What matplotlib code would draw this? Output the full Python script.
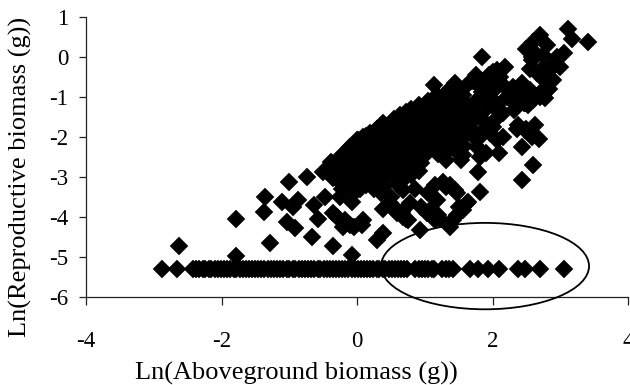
import matplotlib
matplotlib.use("Agg")
import matplotlib.pyplot as plt
from matplotlib.patches import Ellipse

plt.rcParams['font.family'] = ['Liberation Serif', 'DejaVu Serif']

# ---------------- data ----------------
x_label = "Ln(Aboveground biomass (g))"
y_label = "Ln(Reproductive biomass (g))"
x_ticks = [-4, -2, 0, 2, 4]
y_ticks = [-6, -5, -4, -3, -2, -1, 0, 1]

# plants with no reproductive biomass (plotted at a constant floor value)
zero_floor_y = -5.3
zero_x = [-2.88, -2.65, -2.42, -2.37, -2.33, -2.28, -2.24, -2.19, -2.15, -2.10,
          -2.05, -2.01, -1.96, -1.92, -1.87, -1.82, -1.78, -1.73, -1.69, -1.64,
          -1.59, -1.55, -1.50, -1.46, -1.41, -1.37, -1.32, -1.27, -1.23, -1.18,
          -1.14, -1.09, -1.04, -1.00, -0.95, -0.91, -0.86, -0.81, -0.77, -0.72,
          -0.68, -0.63, -0.58, -0.54, -0.49, -0.45, -0.40, -0.36, -0.31, -0.26,
          -0.22, -0.17, -0.13, -0.08, -0.03, 0.01, 0.06, 0.10, 0.15, 0.19,
          0.24, 0.29, 0.33, 0.38, 0.42, 0.47, 0.51, 0.56, 0.61, 0.65, 0.70,
          0.74, 0.86, 0.91, 0.96, 1.00, 1.05, 1.10, 1.14, 1.26, 1.31, 1.36,
          1.41, 1.67, 1.79, 1.94, 2.09, 2.38, 2.48, 2.70, 3.06]

# sparse points, lower-left part of the cloud
sparse_left = [(-2.62, -4.72), (-1.79, -4.03), (-1.79, -4.97), (-1.36, -3.50),
               (-1.38, -3.86), (-1.29, -4.65), (-1.00, -3.11), (-1.11, -3.61),
               (-0.87, -3.57), (-0.94, -3.73), (-1.04, -4.11), (-0.92, -4.26),
               (-0.74, -3.00), (-0.64, -3.69), (-0.67, -4.50), (-0.57, -4.05),
               (-0.47, -3.48), (-0.50, -2.86), (-0.37, -2.69), (-0.35, -3.88),
               (-0.36, -4.72), (-0.08, -4.95), (-0.25, -3.11), (-0.15, -2.90),
               (-0.10, -2.40), (-0.05, -3.40), (-0.05, -4.23), (-0.30, -3.99),
               (-0.18, -4.07), (-0.10, -4.19), (-0.20, -4.23), (0.09, -4.07),
               (0.07, -4.19), (-0.08, -3.61), (-0.25, -3.48), (-0.20, -3.15)]

# sparse points below the dense core
sparse_low = [(0.29, -4.57), (0.39, -4.40), (0.49, -3.65), (0.39, -3.78),
              (0.59, -3.90), (0.68, -3.99), (0.76, -4.07), (0.56, -2.99),
              (0.63, -3.24), (0.68, -3.32), (0.93, -4.32), (0.95, -3.74),
              (1.03, -3.90), (1.13, -3.99), (1.22, -4.03), (1.05, -3.40),
              (1.18, -3.57), (1.15, -3.19), (1.27, -3.11), (1.37, -3.19),
              (1.45, -3.32), (1.37, -4.23), (1.42, -4.07), (1.50, -3.74),
              (1.64, -3.61), (1.82, -3.36), (1.79, -2.86), (1.54, -2.57),
              (1.81, -2.48), (1.91, -2.40), (2.09, -2.40), (2.43, -2.23),
              (2.60, -2.69), (2.43, -3.07), (1.32, -3.24), (1.47, -3.40),
              (1.47, -3.95), (1.57, -3.82), (1.62, -3.65), (0.54, -3.74),
              (0.66, -3.86), (0.73, -4.03), (1.08, -3.82), (1.20, -3.95),
              (1.15, -4.07), (1.77, -2.23), (1.86, -2.40), (0.00, -3.22),
              (0.15, -3.10), (0.25, -3.28), (0.35, -3.40), (0.50, -3.50),
              (0.78, -3.65), (0.85, -3.30)]

# dense core of the cloud
core = [(-0.38, -2.62), (-0.40, -2.82), (-0.36, -3.02),
        (-0.25, -2.48), (-0.27, -2.68), (-0.24, -2.87), (-0.26, -3.05), (-0.22, -3.28),
        (-0.12, -2.26), (-0.13, -2.44), (-0.11, -2.62), (-0.12, -2.80), (-0.10, -2.98), (-0.13, -3.18),
        (0.02, -2.06), (0.01, -2.22), (0.03, -2.40), (0.02, -2.58), (0.00, -2.76), (0.03, -2.93),
        (0.02, -3.10), (0.04, -3.30),
        (0.14, -1.96), (0.15, -2.13), (0.13, -2.30), (0.15, -2.48), (0.14, -2.66), (0.12, -2.84),
        (0.15, -3.02), (0.13, -3.20),
        (0.27, -1.84), (0.28, -2.02), (0.26, -2.20), (0.28, -2.38), (0.27, -2.56), (0.25, -2.74),
        (0.28, -2.92), (0.26, -3.12),
        (0.40, -1.72), (0.41, -1.90), (0.39, -2.08), (0.42, -2.26), (0.40, -2.44), (0.38, -2.62),
        (0.41, -2.80), (0.40, -3.00), (0.42, -3.20),
        (0.53, -1.60), (0.54, -1.78), (0.52, -1.96), (0.55, -2.14), (0.53, -2.32), (0.51, -2.50),
        (0.54, -2.68), (0.52, -2.86),
        (0.66, -1.48), (0.67, -1.67), (0.65, -1.86), (0.68, -2.04), (0.66, -2.22), (0.64, -2.40),
        (0.67, -2.58), (0.65, -2.78), (0.70, -3.05),
        (0.79, -1.30), (0.80, -1.48), (0.78, -1.66), (0.81, -1.84), (0.79, -2.02), (0.77, -2.20),
        (0.80, -2.38), (0.78, -2.56), (0.81, -2.75), (0.79, -2.95),
        (0.92, -1.20), (0.93, -1.38), (0.91, -1.56), (0.94, -1.74), (0.92, -1.92), (0.90, -2.10),
        (0.93, -2.28), (0.91, -2.46), (0.94, -2.64), (0.92, -2.85),
        (1.05, -1.10), (1.06, -1.28), (1.04, -1.46), (1.07, -1.64), (1.05, -1.82), (1.03, -2.00),
        (1.06, -2.18), (1.04, -2.38),
        (1.18, -0.95), (1.19, -1.13), (1.17, -1.31), (1.20, -1.49), (1.18, -1.67), (1.16, -1.85),
        (1.19, -2.03), (1.17, -2.22), (1.20, -2.42),
        (1.31, -0.88), (1.32, -1.05), (1.30, -1.22), (1.33, -1.40), (1.31, -1.58), (1.29, -1.76),
        (1.32, -1.94), (1.30, -2.12), (1.33, -2.35), (1.31, -2.56),
        (1.44, -0.98), (1.45, -1.16), (1.43, -1.34), (1.46, -1.52), (1.44, -1.70), (1.42, -1.88),
        (1.45, -2.06), (1.43, -2.30),
        (1.57, -1.08), (1.58, -1.26), (1.56, -1.46), (1.59, -1.66), (1.57, -1.84), (1.55, -2.02),
        (1.58, -2.22), (1.56, -2.45),
        (1.70, -1.40), (1.71, -1.60), (1.69, -1.80), (1.72, -2.00)]

# upper edge and upper-right part of the cloud
upper = [(3.12, 0.72), (3.41, 0.39), (3.17, 0.47), (2.70, 0.56), (2.60, 0.39),
         (2.80, 0.31), (2.50, 0.22), (2.58, 0.02), (3.05, 0.10), (1.84, 0.02),
         (2.58, -0.07), (2.90, -0.15), (3.00, -0.23), (2.73, -0.28), (2.85, -0.28),
         (2.18, -0.23), (2.01, -0.36), (2.11, -0.49), (2.06, -0.32), (2.55, -0.28),
         (2.65, -0.40), (2.75, -0.53), (2.82, -0.36), (1.91, -0.57), (2.01, -0.61),
         (2.43, -0.65), (2.85, -0.61), (2.90, -0.57), (2.84, -0.78), (2.70, -0.90),
         (2.77, -1.02), (1.81, -0.74), (1.86, -0.99), (1.94, -0.74), (1.84, -0.86),
         (2.26, -0.94), (2.43, -1.07), (2.53, -1.19), (2.21, -0.99), (2.28, -1.07),
         (2.43, -0.94), (2.55, -0.82), (2.70, -0.99), (2.48, -1.15), (1.96, -1.15),
         (2.06, -1.32), (2.16, -1.40), (2.01, -1.07), (2.06, -1.19), (1.77, -1.07),
         (1.69, -1.23), (2.38, -1.69), (2.48, -1.82), (2.63, -1.69), (2.58, -1.98),
         (2.68, -2.03), (2.36, -1.78), (2.50, -1.78), (2.31, -1.32), (2.46, -1.15),
         (2.60, -1.07), (1.96, -1.90), (1.91, -1.74), (1.86, -1.57), (2.16, -1.98),
         (2.06, -2.07), (1.13, -0.69), (1.37, -0.78), (1.50, -0.82), (1.57, -0.94),
         (1.22, -1.07), (0.98, -1.23), (0.88, -1.32), (1.08, -1.19), (0.73, -1.36),
         (0.63, -1.44), (0.54, -1.53), (0.71, -1.57), (0.39, -1.65), (0.29, -1.78),
         (0.19, -1.90), (0.09, -1.98), (0.00, -2.07), (-0.10, -2.23), (-0.18, -2.40),
         (2.62, 0.12), (2.75, 0.05), (2.95, 0.00), (1.75, -0.45), (1.95, -0.45),
         (2.15, -0.70), (2.00, -0.85), (1.70, -0.60), (2.30, -0.75), (1.45, -0.65),
         (1.62, -0.70), (1.90, -1.30), (1.75, -1.40), (2.05, -1.55), (1.85, -1.95),
         (2.00, -1.75)]

# annotation ellipse around the zero-reproduction plants of large size
ellipse_center = (1.89, -5.22)
ellipse_size = (3.07, 2.16)

# ---------------- figure ----------------
fig = plt.figure(figsize=(6.3, 3.85), dpi=100)
ax = fig.add_axes([86 / 630, 1 - 297.3 / 385, 542 / 630, 280 / 385])

cloud = sparse_left + sparse_low + core + upper
cx = [p[0] for p in cloud]
cy = [p[1] for p in cloud]
ax.plot(cx, cy, linestyle='none', marker='D', markersize=9.2,
        color='black', markeredgewidth=0.3)
ax.plot(zero_x, [zero_floor_y] * len(zero_x), linestyle='none', marker='D',
        markersize=9.2, color='black', markeredgewidth=0.3)

ell = Ellipse(ellipse_center, ellipse_size[0], ellipse_size[1], fill=False,
              edgecolor='black', linewidth=1.3, clip_on=False, zorder=5)
ax.add_patch(ell)

ax.set_xlim(-4, 4)
ax.set_ylim(-6, 1)
ax.set_xticks(x_ticks)
ax.set_yticks(y_ticks)
ax.set_xticklabels([str(t) for t in x_ticks])
ax.set_yticklabels([str(t) for t in y_ticks])

for s in ('top', 'right'):
    ax.spines[s].set_visible(False)
for s in ('left', 'bottom'):
    ax.spines[s].set_linewidth(0.9)
    ax.spines[s].set_color('#222222')

ax.tick_params(axis='both', direction='out', length=5.4, width=0.9,
               color='#222222', labelsize=16.5)
ax.tick_params(axis='x', pad=19)
ax.tick_params(axis='y', pad=7.5)

ax.set_xlabel(x_label, fontsize=19)
ax.set_ylabel(y_label, fontsize=19)
ax.xaxis.set_label_coords(0.389, -0.231)
ax.yaxis.set_label_coords(-0.100, 0.43)

fig.savefig("out.png", dpi=100)
